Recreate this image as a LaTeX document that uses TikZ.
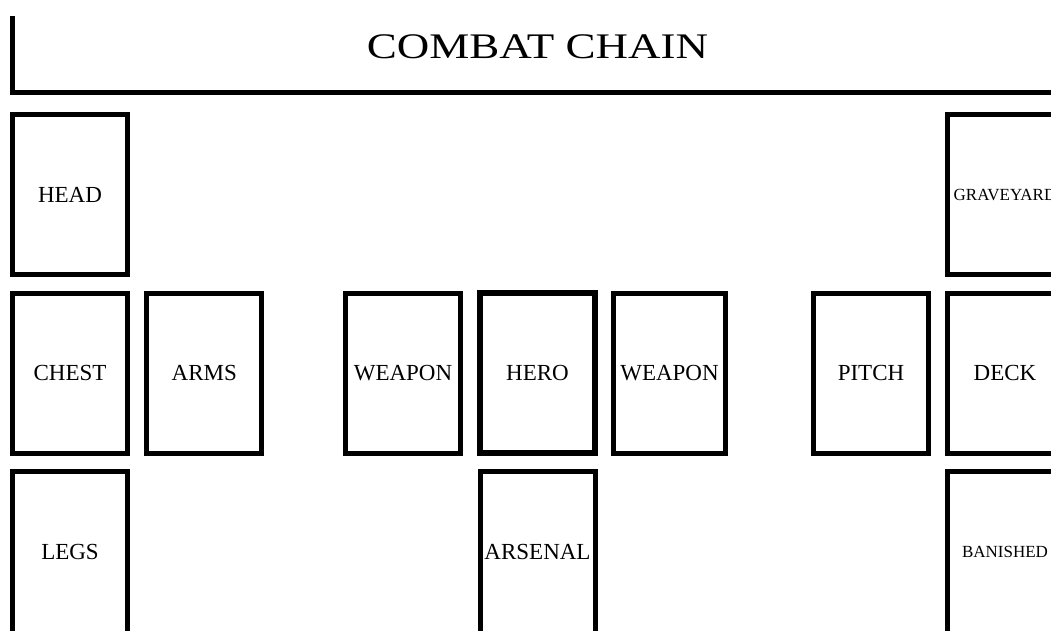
\documentclass[tikz,border=0pt]{standalone}
\usepackage{fontspec}
\setmainfont{Liberation Serif}
\begin{document}
\begin{tikzpicture}[x=1pt,y=-1pt,
  card/.style={draw=black,line width=5pt,minimum width=115pt,minimum height=160pt,inner sep=0pt,
    font=\fontsize{23}{23}\selectfont,text depth=0pt},
  smallcard/.style={card,font=\fontsize{17}{17}\selectfont},
  tallcard/.style={card,minimum height=180pt},
  cardtext/.style={inner sep=0pt,font=\fontsize{23}{23}\selectfont,text depth=0pt},
  smalltext/.style={cardtext,font=\fontsize{17}{17}\selectfont},
  frame/.style={line width=5pt,draw=black}]
\useasboundingbox (0,0) rectangle (1051,630);
\clip (0,0) rectangle (1051,630);
% title frame
\coordinate (ftop) at (12.5,16);
\coordinate (fcorner) at (12.5,92.5);
\coordinate (fend) at (1060,92.5);
\draw[frame] (ftop) -- (fcorner) -- (fend);
\node[font=\fontsize{36}{36}\selectfont,xscale=1.25,inner sep=0pt] (title) at (537.5,47) {COMBAT CHAIN};
% left column
\node[card] (head) at (70,194.5) {HEAD};
\node[card] (chest) at (70,373) {CHEST};
\node[tallcard] (legs) at (70,561.5) {};
\node[cardtext] (legstext) at ([yshift=10pt]legs.center) {LEGS};
\node[card] (arms) at (204.25,373) {ARMS};
% centre
\node[card] (weaponl) at (403,373) {WEAPON};
\node[card,line width=5.8pt] (hero) at (537.5,373) {HERO};
\node[card,minimum width=112pt] (weaponr) at (669.5,373) {WEAPON};
\node[tallcard] (arsenal) at (537.5,561.5) {};
\node[cardtext] (arsenaltext) at ([yshift=10pt]arsenal.center) {ARSENAL};
% right
\node[card] (pitch) at (871,373) {PITCH};
\node[smallcard] (graveyard) at (1005,194.5) {GRAVEYARD};
\node[card] (deck) at (1005,373) {DECK};
\node[tallcard] (banished) at (1005,561.5) {};
\node[smalltext] (banishedtext) at ([yshift=10pt]banished.center) {BANISHED};
\end{tikzpicture}
\end{document}
